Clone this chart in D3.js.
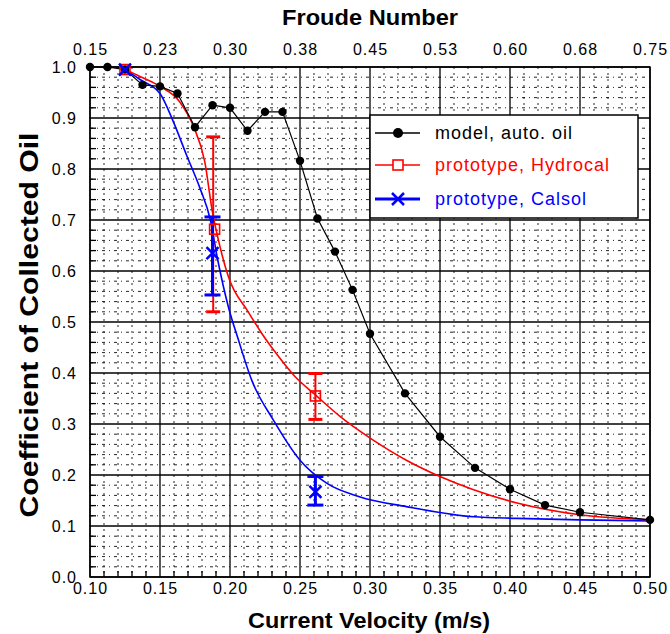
<!DOCTYPE html>
<html>
<head>
<meta charset="utf-8">
<script src="https://cdn.jsdelivr.net/npm/d3@7"></script>
<style>
body{margin:0;background:#fff;}
text{font-family:"Liberation Sans", Arial, sans-serif;}
</style>
</head>
<body>
<svg id="Vis" width="670" height="634"></svg>
<script>
// velocity axis (m/s) and froude axis labels
var velocityTicks = [0.10,0.15,0.20,0.25,0.30,0.35,0.40,0.45,0.50];
var froudeTicks = ["0.15","0.23","0.30","0.38","0.45","0.53","0.60","0.68","0.75"];
var coefTicks = [0.0,0.1,0.2,0.3,0.4,0.5,0.6,0.7,0.8,0.9,1.0];

// model, auto. oil
var modelV = [0.100,0.1125,0.125,0.1375,0.150,0.1625,0.175,0.1875,0.200,0.2125,0.225,0.2375,0.250,0.2625,0.275,0.2875,0.300,0.325,0.350,0.375,0.400,0.425,0.450,0.500];
var modelC = [1.000,1.000,0.995,0.965,0.962,0.948,0.882,0.925,0.920,0.875,0.912,0.912,0.816,0.703,0.638,0.563,0.477,0.360,0.275,0.214,0.172,0.141,0.127,0.112];

// prototype, Hydrocal : fitted curve + measured points
var hydroCurveV = [0.125,0.136,0.150,0.164,0.174,0.182,0.1875,0.1917,0.1988,0.213,0.2226,0.232,0.2464,0.261,0.279,0.302,0.326,0.350,0.374,0.405,0.450,0.500];
var hydroCurveC = [0.995,0.981,0.962,0.932,0.883,0.814,0.715,0.661,0.589,0.520,0.478,0.442,0.393,0.357,0.314,0.269,0.229,0.197,0.171,0.145,0.122,0.112];
var hydroV = [0.125,0.189,0.261];
var hydroC = [0.995,0.682,0.355];
var hydroErrV = [0.188,0.261];
var hydroErrLo = [0.520,0.309];
var hydroErrHi = [0.863,0.399];

// prototype, Calsol : fitted curve + measured points
var calsolCurveV = [0.125,0.136,0.150,0.1595,0.169,0.1786,0.186,0.191,0.1988,0.206,0.2155,0.2309,0.250,0.269,0.293,0.326,0.374,0.405,0.450,0.500];
var calsolCurveC = [0.995,0.975,0.948,0.893,0.827,0.762,0.700,0.625,0.530,0.465,0.386,0.308,0.229,0.184,0.157,0.138,0.118,0.115,0.112,0.110];
var calsolV = [0.125,0.1875,0.261];
var calsolC = [0.995,0.635,0.167];
var calsolErrV = [0.1875,0.261];
var calsolErrLo = [0.553,0.141];
var calsolErrHi = [0.706,0.197];

var legendLabels = ["model, auto. oil","prototype, Hydrocal","prototype, Calsol"];
var legendColors = ["#000000","#ff0000","#0000ff"];

var svg = d3.select("#Vis");
var plotLeft = 90, plotRight = 650, plotTop = 67, plotBottom = 577;

var x = d3.scaleLinear().domain([0.1,0.5]).range([plotLeft,plotRight]);
var xf = d3.scaleLinear().domain([0.15,0.75]).range([plotLeft,plotRight]);
var y = d3.scaleLinear().domain([0,1]).range([plotBottom,plotTop]);

function zip(a,b){
  var out=[];
  for(var i=0;i<a.length;i++){ out.push([a[i],b[i]]); }
  return out;
}

// minor grid
var gGrid = svg.append("g");
var minorX = d3.range(10,51).filter(function(d){return d%5!=0;}).map(function(d){return d/100;});
var minorY = d3.range(0,51).filter(function(d){return d%5!=0;}).map(function(d){return d/50;});

gGrid.selectAll("line.mx").data(minorX).enter().append("line")
   .attr("x1",function(d){return x(d);}).attr("x2",function(d){return x(d);})
   .attr("y1",plotTop).attr("y2",plotBottom)
   .attr("stroke","#000").attr("stroke-width",1)
   .attr("stroke-dasharray","2,4").attr("opacity",0.85);
gGrid.selectAll("line.my").data(minorY).enter().append("line")
   .attr("x1",plotLeft).attr("x2",plotRight)
   .attr("y1",function(d){return y(d);}).attr("y2",function(d){return y(d);})
   .attr("stroke","#000").attr("stroke-width",1)
   .attr("stroke-dasharray","3,4,1,4").attr("opacity",0.85);

// major grid
gGrid.selectAll("line.vx").data(velocityTicks).enter().append("line")
   .attr("x1",function(d){return x(d);}).attr("x2",function(d){return x(d);})
   .attr("y1",plotTop).attr("y2",plotBottom)
   .attr("stroke","#000").attr("stroke-width",1.3);
gGrid.selectAll("line.hy").data(coefTicks).enter().append("line")
   .attr("x1",plotLeft).attr("x2",plotRight)
   .attr("y1",function(d){return y(d);}).attr("y2",function(d){return y(d);})
   .attr("stroke","#000").attr("stroke-width",1.3);

// small ticks on left and bottom
gGrid.selectAll("line.tb").data(minorX).enter().append("line")
   .attr("x1",function(d){return x(d);}).attr("x2",function(d){return x(d);})
   .attr("y1",plotBottom).attr("y2",plotBottom-6)
   .attr("stroke","#000").attr("stroke-width",1.3);
gGrid.selectAll("line.tl").data(minorY).enter().append("line")
   .attr("x1",plotLeft).attr("x2",plotLeft+6)
   .attr("y1",function(d){return y(d);}).attr("y2",function(d){return y(d);})
   .attr("stroke","#000").attr("stroke-width",1.3);

svg.append("rect")
   .attr("x",plotLeft).attr("y",plotTop).attr("width",plotRight-plotLeft).attr("height",plotBottom-plotTop)
   .attr("fill","none").attr("stroke","#000").attr("stroke-width",1.5);

// axes labels
var axB = svg.append("g").attr("transform","translate(0,"+(plotBottom+3)+")")
   .call(d3.axisBottom(x).tickValues(velocityTicks).tickSize(0).tickFormat(d3.format(".2f")));
var axT = svg.append("g").attr("transform","translate(0,"+(plotTop-9)+")")
   .call(d3.axisTop(xf).tickValues(d3.range(9).map(function(i){return xf.domain()[0]+i*(xf.domain()[1]-xf.domain()[0])/8;}))
   .tickSize(0).tickFormat(function(d,i){return froudeTicks[i];}));
var axL = svg.append("g").attr("transform","translate("+(plotLeft-10)+",0)")
   .call(d3.axisLeft(y).tickValues(coefTicks).tickSize(0).tickFormat(d3.format(".1f")));
[axB,axT,axL].forEach(function(a){
  a.select(".domain").remove();
  a.selectAll("text").attr("font-size",16).attr("fill","#000")
   .style("font-family","'Liberation Sans', Arial, sans-serif").style("letter-spacing","1px");
});

svg.append("text").attr("x",370).attr("y",25).attr("text-anchor","middle")
   .attr("font-size",22).attr("font-weight","bold")
   .attr("textLength",176).attr("lengthAdjust","spacingAndGlyphs")
   .text("Froude Number");
svg.append("text").attr("x",369).attr("y",628).attr("text-anchor","middle")
   .attr("font-size",22).attr("font-weight","bold")
   .attr("textLength",242).attr("lengthAdjust","spacingAndGlyphs")
   .text("Current Velocity (m/s)");
svg.append("text").attr("transform","translate(38,325) rotate(-90)").attr("text-anchor","middle")
   .attr("font-size",25).attr("font-weight","bold")
   .attr("textLength",385).attr("lengthAdjust","spacingAndGlyphs")
   .text("Coefficient of Collected Oil");

// curves
var line = d3.line().x(function(d){return x(d[0]);}).y(function(d){return y(d[1]);});
var smooth = d3.line().curve(d3.curveMonotoneX).x(function(d){return x(d[0]);}).y(function(d){return y(d[1]);});

svg.append("path").datum(zip(calsolCurveV,calsolCurveC)).attr("d",smooth)
   .attr("fill","none").attr("stroke",legendColors[2]).attr("stroke-width",1.6);
svg.append("path").datum(zip(hydroCurveV,hydroCurveC)).attr("d",smooth)
   .attr("fill","none").attr("stroke",legendColors[1]).attr("stroke-width",1.6);
svg.append("path").datum(zip(modelV,modelC)).attr("d",line)
   .attr("fill","none").attr("stroke",legendColors[0]).attr("stroke-width",1.2);

// error bars
function drawErr(vs,lo,hi,color,w,cap){
  var g = svg.append("g");
  for(var i=0;i<vs.length;i++){
    g.append("line").attr("x1",x(vs[i])).attr("x2",x(vs[i])).attr("y1",y(lo[i])).attr("y2",y(hi[i]))
     .attr("stroke",color).attr("stroke-width",w);
    [lo[i],hi[i]].forEach(function(v){
      g.append("line").attr("x1",x(vs[i])-cap).attr("x2",x(vs[i])+cap).attr("y1",y(v)).attr("y2",y(v))
       .attr("stroke",color).attr("stroke-width",3);
    });
  }
}
drawErr(hydroErrV,hydroErrLo,hydroErrHi,legendColors[1],2,7);
drawErr(calsolErrV,calsolErrLo,calsolErrHi,legendColors[2],3,8);

// markers
svg.selectAll("circle.model").data(zip(modelV,modelC)).enter().append("circle")
   .attr("cx",function(d){return x(d[0]);}).attr("cy",function(d){return y(d[1]);})
   .attr("r",4.2).attr("fill","#000");
svg.selectAll("rect.hydro").data(zip(hydroV,hydroC)).enter().append("rect")
   .attr("x",function(d){return x(d[0])-5;}).attr("y",function(d){return y(d[1])-5;})
   .attr("width",10).attr("height",10)
   .attr("fill","none").attr("stroke",legendColors[1]).attr("stroke-width",1.6);
svg.selectAll("path.calsol").data(zip(calsolV,calsolC)).enter().append("path")
   .attr("transform",function(d){return "translate("+x(d[0])+","+y(d[1])+")";})
   .attr("d","M-6,-6L6,6M-6,6L6,-6")
   .attr("stroke",legendColors[2]).attr("stroke-width",2.5).attr("fill","none");

// legend
var gLeg = svg.append("g").attr("transform","translate(370,115)");
gLeg.append("rect").attr("width",268).attr("height",103)
   .attr("fill","#fff").attr("stroke","#000").attr("stroke-width",1.5);
var rows = gLeg.selectAll("g.row").data(legendLabels).enter().append("g")
   .attr("transform",function(d,i){return "translate(0,"+[18,50,84][i]+")";});
rows.append("line").attr("x1",5).attr("x2",50).attr("y1",0).attr("y2",0)
   .attr("stroke",function(d,i){return legendColors[i];})
   .attr("stroke-width",function(d,i){return [1.5,1.6,3][i];});
rows.append("text").attr("x",65).attr("y",0).attr("dy","0.35em")
   .attr("font-size",18).style("letter-spacing","1px")
   .attr("fill",function(d,i){return legendColors[i];})
   .text(function(d){return d;});
gLeg.append("circle").attr("cx",28).attr("cy",18).attr("r",5).attr("fill","#000");
gLeg.append("rect").attr("x",23).attr("y",45).attr("width",10).attr("height",10)
   .attr("fill","#fff").attr("stroke",legendColors[1]).attr("stroke-width",1.6);
gLeg.append("path").attr("transform","translate(28,84)").attr("d","M-6,-6L6,6M-6,6L6,-6")
   .attr("stroke",legendColors[2]).attr("stroke-width",2.5);
</script>
</body>
</html>
